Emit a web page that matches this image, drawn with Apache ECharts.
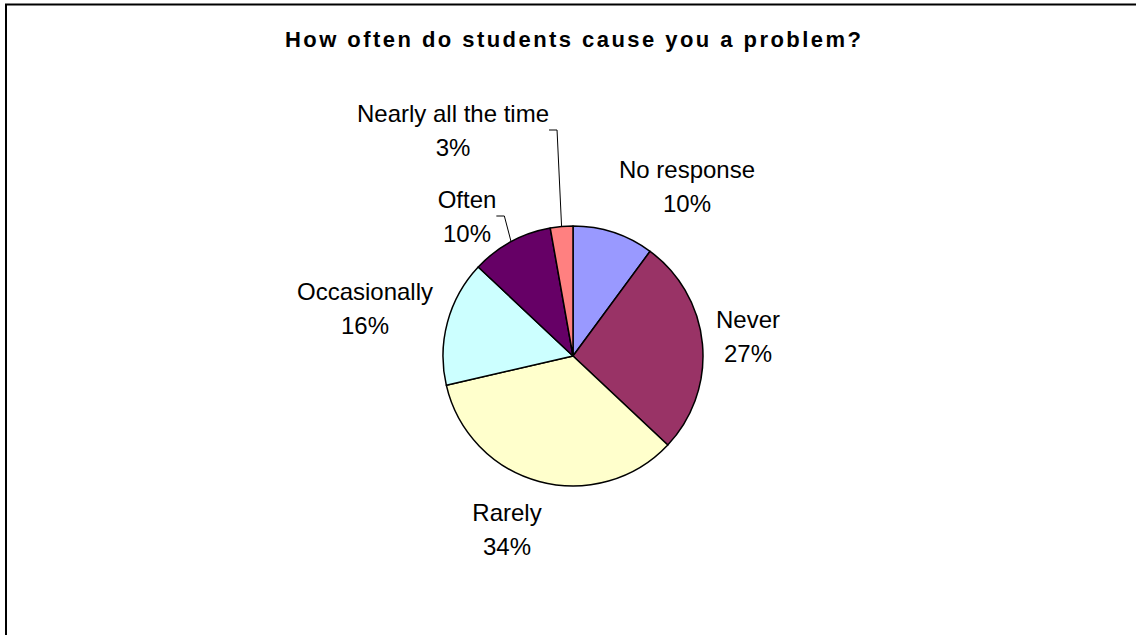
<!DOCTYPE html>
<html>
<head>
<meta charset="utf-8">
<script src="https://cdn.jsdelivr.net/npm/echarts@6/dist/echarts.min.js"></script>
<style>
  html, body { margin: 0; padding: 0; background: #fff; }
  #chart { width: 1136px; height: 635px; }
  #chart text[style*="bold"] { letter-spacing: 2.45px; }
</style>
</head>
<body>
<div id="chart"></div>
<script>
const titleText = 'How often do students cause you a problem?';
const categories = ['No response', 'Never', 'Rarely', 'Occasionally', 'Often', 'Nearly all the time'];
const values = [10.1, 26.9, 34.4, 15.6, 10.2, 2.8];
const colors = ['#9999FF', '#993366', '#FFFFCC', '#CCFFFF', '#660066', '#FF8080'];
const withLeader = ['Often', 'Nearly all the time'];

// label block centres (layout only)
const labelPos = {
  'No response': [687, 186],
  'Never': [748, 336],
  'Rarely': [507, 529],
  'Occasionally': [365, 308],
  'Often': [467, 216],
  'Nearly all the time': [453, 130]
};

const chart = echarts.init(document.getElementById('chart'), null, { renderer: 'svg' });

const data = categories.map((c, i) => ({
  name: c,
  value: values[i],
  itemStyle: { color: colors[i] },
  labelLine: { show: withLeader.indexOf(c) >= 0 }
}));

chart.setOption({
  backgroundColor: '#ffffff',
  animation: false,
  title: {
    text: titleText,
    left: 285,
    top: 28,
    padding: 0,
    textStyle: { fontFamily: 'Liberation Sans, Arial', fontWeight: 'bold', fontSize: 22, color: '#000' }
  },
  graphic: [{
    type: 'rect',
    shape: { x: 6, y: 4.5, width: 3000, height: 3000 },
    style: { fill: 'none', stroke: '#000', lineWidth: 2 },
    silent: true
  }],
  series: [{
    type: 'pie',
    center: [573, 356],
    radius: 130,
    startAngle: 90,
    clockwise: true,
    data: data,
    itemStyle: { borderColor: '#000', borderWidth: 1.5 },
    label: {
      show: true,
      position: 'outside',
      fontFamily: 'Liberation Sans, Arial',
      fontSize: 24,
      lineHeight: 34,
      color: '#000',
      align: 'center',
      formatter: p => p.name + '\n' + Math.round(p.percent) + '%'
    },
    labelLine: {
      show: false,
      length: 10,
      length2: 8,
      lineStyle: { color: '#000', width: 1 }
    },
    labelLayout: function (params) {
      const name = categories[params.dataIndex];
      const pos = labelPos[name];
      return { x: pos[0], y: pos[1], align: 'center', verticalAlign: 'middle' };
    },
    emphasis: { disabled: true }
  }]
});
</script>
</body>
</html>
